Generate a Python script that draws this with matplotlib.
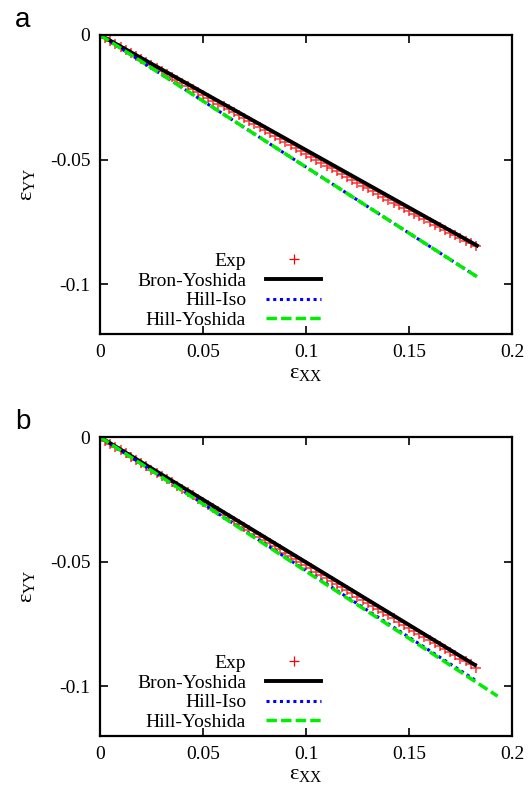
import numpy as np
import matplotlib.pyplot as plt

plt.rcParams['font.family'] = ['Liberation Serif', 'DejaVu Serif']
plt.rcParams['mathtext.fontset'] = 'stix'

exp_x = [0.0000, 0.0025, 0.0050, 0.0075, 0.0100, 0.0125, 0.0150, 0.0175, 0.0200, 0.0225,
         0.0250, 0.0275, 0.0300, 0.0325, 0.0350, 0.0375, 0.0400, 0.0425, 0.0450, 0.0475,
         0.0500, 0.0525, 0.0550, 0.0575, 0.0600, 0.0625, 0.0650, 0.0675, 0.0700, 0.0725,
         0.0750, 0.0775, 0.0800, 0.0825, 0.0850, 0.0875, 0.0900, 0.0925, 0.0950, 0.0975,
         0.1000, 0.1025, 0.1050, 0.1075, 0.1100, 0.1125, 0.1150, 0.1175, 0.1200, 0.1225,
         0.1250, 0.1275, 0.1300, 0.1325, 0.1350, 0.1375, 0.1400, 0.1425, 0.1450, 0.1475,
         0.1500, 0.1525, 0.1550, 0.1575, 0.1600, 0.1625, 0.1650, 0.1675, 0.1700, 0.1725,
         0.1750, 0.1775, 0.1800, 0.1825]
exp_a = [0.0, -0.0013, -0.0025, -0.0037, -0.0049, -0.0061, -0.0073, -0.0084, -0.0096, -0.0108,
         -0.0121, -0.0132, -0.0144, -0.0156, -0.0168, -0.0179, -0.0192, -0.0203, -0.0215, -0.0227,
         -0.0240, -0.0251, -0.0263, -0.0275, -0.0287, -0.0299, -0.0311, -0.0322, -0.0335, -0.0346,
         -0.0358, -0.0370, -0.0382, -0.0394, -0.0406, -0.0418, -0.0430, -0.0441, -0.0454, -0.0465,
         -0.0477, -0.0489, -0.0500, -0.0512, -0.0524, -0.0535, -0.0547, -0.0559, -0.0570, -0.0582,
         -0.0593, -0.0605, -0.0616, -0.0628, -0.0639, -0.0650, -0.0661, -0.0673, -0.0684, -0.0695,
         -0.0706, -0.0717, -0.0728, -0.0739, -0.0750, -0.0761, -0.0772, -0.0783, -0.0793, -0.0804,
         -0.0815, -0.0826, -0.0836, -0.0847]
exp_b = [0.0, -0.0014, -0.0027, -0.0040, -0.0053, -0.0066, -0.0079, -0.0092, -0.0105, -0.0118,
         -0.0131, -0.0144, -0.0157, -0.0170, -0.0182, -0.0195, -0.0208, -0.0221, -0.0234, -0.0247,
         -0.0260, -0.0273, -0.0286, -0.0298, -0.0311, -0.0324, -0.0337, -0.0349, -0.0362, -0.0375,
         -0.0388, -0.0400, -0.0413, -0.0426, -0.0439, -0.0451, -0.0464, -0.0477, -0.0490, -0.0502,
         -0.0515, -0.0527, -0.0540, -0.0553, -0.0566, -0.0578, -0.0591, -0.0603, -0.0616, -0.0628,
         -0.0641, -0.0653, -0.0666, -0.0678, -0.0691, -0.0703, -0.0716, -0.0728, -0.0741, -0.0753,
         -0.0766, -0.0778, -0.0791, -0.0803, -0.0815, -0.0827, -0.0840, -0.0852, -0.0864, -0.0876,
         -0.0889, -0.0901, -0.0913, -0.0926]

# model curves (straight lines, endpoints)
bron_a_x, bron_a_y = [0.0, 0.183], [0.0, -0.0845]
iso_a_x, iso_a_y = [0.0, 0.183], [0.0, -0.0970]
hy_a_x, hy_a_y = [0.0, 0.183], [0.0, -0.0970]

bron_b_x, bron_b_y = [0.0, 0.182], [0.0, -0.0915]
iso_b_x, iso_b_y = [0.0, 0.182], [0.0, -0.0975]
hy_b_x, hy_b_y = [0.0, 0.193], [0.0, -0.1040]

xticks = [0, 0.05, 0.1, 0.15, 0.2]
xticklabels = ['0', '0.05', '0.1', '0.15', '0.2']
yticks = [0, -0.05, -0.1]
yticklabels = ['0', '-0.05', '-0.1']

fig = plt.figure(figsize=(5.31, 7.93), dpi=100)

panels = [
    ('a', [0.1883, 0.5788, 0.7759, 0.3771], exp_a,
     (bron_a_x, bron_a_y), (iso_a_x, iso_a_y), (hy_a_x, hy_a_y)),
    ('b', [0.1883, 0.0719, 0.7759, 0.3770], exp_b,
     (bron_b_x, bron_b_y), (iso_b_x, iso_b_y), (hy_b_x, hy_b_y)),
]

for name, rect, exp_y, bron, iso, hy in panels:
    ax = fig.add_axes(rect)
    ax.plot(exp_x, exp_y, linestyle='none', marker='+', color='red',
            markersize=7, markeredgewidth=1.2, alpha=0.75, label='Exp')
    ax.plot(bron[0], bron[1], color='black', lw=2.8, label='Bron-Yoshida')
    ax.plot(iso[0], iso[1], color='blue', lw=2.2, linestyle=(0, (1, 1.2)),
            label='Hill-Iso')
    ax.plot(hy[0], hy[1], color='#00ee00', lw=2.5, linestyle=(0, (3, 1.2)),
            label='Hill-Yoshida')

    ax.set_xlim(0, 0.2)
    ax.set_ylim(-0.12, 0)
    ax.set_xticks(xticks)
    ax.set_xticklabels(xticklabels)
    ax.set_yticks(yticks)
    ax.set_yticklabels(yticklabels)
    ax.tick_params(direction='in', length=6, width=1.2, labelsize=14,
                   top=True, right=True, pad=7)
    for s in ax.spines.values():
        s.set_linewidth(1.6)

    ax.set_xlabel(r'$\mathregular{ε_{XX}}$', fontsize=16, labelpad=2)
    ax.set_ylabel(r'$\mathregular{ε_{YY}}$', fontsize=16, labelpad=9)

    leg = ax.legend(loc='lower right', bbox_to_anchor=(0.574, -0.035), frameon=False,
                    markerfirst=False, fontsize=14, handlelength=2.8,
                    handletextpad=1.05, labelspacing=0.1, borderpad=0.3)
    for h in leg.legend_handles[:1]:
        h.set_alpha(1.0)
        h.set_markeredgewidth(0.9)

    fig.text(0.028, rect[1] + rect[3] + 0.003, name, fontsize=20,
             family='Liberation Sans', va='bottom', ha='left')

plt.savefig('out.png', dpi=100)
